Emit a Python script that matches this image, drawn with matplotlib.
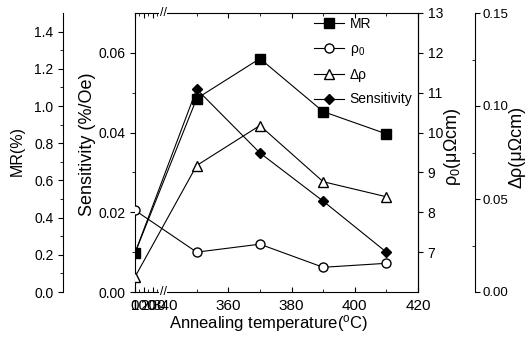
import matplotlib
matplotlib.use("Agg")
import matplotlib.pyplot as plt
import numpy as np

plt.rcParams['font.family'] = ['Liberation Sans', 'DejaVu Sans']
plt.rcParams['mathtext.fontset'] = 'custom'
plt.rcParams['mathtext.rm'] = 'Liberation Sans'
plt.rcParams['mathtext.it'] = 'Liberation Sans:italic'

# data (as-deposited sample placed at 0 on the broken axis)
temps = [0, 350, 370, 390, 410]
mr = [0.21, 1.04, 1.255, 0.97, 0.85]
rho0 = [8.05, 7.0, 7.2, 6.62, 6.72]
drho = [0.0081, 0.068, 0.0895, 0.0593, 0.0512]
sens = [0.0098, 0.0509, 0.0349, 0.0228, 0.0100]

xticks = [0, 100, 200, 340, 360, 380, 400, 420]
xlabels = ['0', '100', '200', '340', '360', '380', '400', '420']


def fwd(t):
    t = np.asarray(t, dtype=float)
    return np.where(t < 340, 330.5 + t * 9.5 / 340, t)


def inv(x):
    x = np.asarray(x, dtype=float)
    return np.where(x < 340, (x - 330.5) * 340 / 9.5, x)


fig = plt.figure(figsize=(5.3, 3.45), dpi=100)
ax = fig.add_axes([135 / 530, 53 / 345, 283 / 530, 279 / 345])
ax_mr = ax.twinx()
ax_rho = ax.twinx()
ax_drho = ax.twinx()
for a in (ax, ax_mr, ax_rho, ax_drho):
    a.set_xscale('function', functions=(fwd, inv))
ax.set_xlim(0, 420)

lw = 0.8
ms = 6.5
# sensitivity on main left axis
l_s, = ax.plot(temps, sens, '-', color='black', lw=lw, marker='D', ms=5.5,
               mfc='black', label='Sensitivity')
ax.set_ylim(0, 0.07)
ax.set_yticks([0, 0.02, 0.04, 0.06])
ax.set_yticks([0.01, 0.03, 0.05], minor=True)
ax.set_yticklabels(['0.00', '0.02', '0.04', '0.06'])
ax.set_xticks(xticks)
ax.set_xticklabels(xlabels)
ax.set_xticks([50, 150, 250, 300, 350, 370, 390, 410], minor=True)
ax.tick_params(axis='x', direction='in', top=True, labelsize=11, pad=5)
ax.tick_params(axis='x', which='minor', direction='in', top=True, length=2)
ax.tick_params(axis='y', direction='out', labelsize=10)
ax.tick_params(axis='y', which='minor', direction='out', length=2)
ax.set_ylabel('Sensitivity (%/Oe)', fontsize=13)
ax.yaxis.set_label_coords(-0.138, 0.53)
ax.set_xlabel('Annealing temperature(${}^{\\rm o}$C)', fontsize=12)
ax.xaxis.set_label_coords(0.473, -0.075)

# MR axis, detached on the left
l_mr, = ax_mr.plot(temps, mr, '-', color='black', lw=lw, marker='s', ms=ms,
                   mfc='black', label='MR')
ax_mr.set_ylim(0, 1.5)
for s in ('right', 'top', 'bottom'):
    ax_mr.spines[s].set_visible(False)
ax_mr.spines['left'].set_visible(True)
ax_mr.spines['left'].set_position(('axes', -0.254))
ax_mr.yaxis.set_ticks_position('left')
ax_mr.yaxis.set_label_position('left')
ax_mr.set_yticks(np.arange(0, 1.41, 0.2))
ax_mr.set_yticks(np.arange(0.1, 1.5, 0.2), minor=True)
ax_mr.set_yticklabels(['0.0', '0.2', '0.4', '0.6', '0.8', '1.0', '1.2', '1.4'])
ax_mr.tick_params(axis='y', direction='out', labelsize=10)
ax_mr.tick_params(axis='y', which='minor', length=2)
ax_mr.set_ylabel('MR(%)', fontsize=11.5)
ax_mr.yaxis.set_label_coords(-0.39, 0.505)

# rho0 axis on the right spine
l_r, = ax_rho.plot(temps, rho0, '-', color='black', lw=lw, marker='o', ms=ms,
                   mfc='white', label='ρ$_0$')
ax_rho.set_ylim(6, 13)
ax_rho.set_yticks(range(7, 14))
ax_rho.tick_params(axis='y', direction='out', labelsize=10)
for s in ('left', 'top', 'bottom'):
    ax_rho.spines[s].set_visible(False)
ax_rho.set_ylabel('ρ$_0$(μΩcm)', fontsize=13)
ax_rho.yaxis.set_label_coords(1.085, 0.52)

# delta rho axis, detached on the right
l_d, = ax_drho.plot(temps, drho, '-', color='black', lw=lw, marker='^', ms=ms,
                    mfc='white', label='Δρ')
ax_drho.set_ylim(0, 0.15)
for s in ('left', 'top', 'bottom'):
    ax_drho.spines[s].set_visible(False)
ax_drho.spines['right'].set_position(('axes', 1.201))
ax_drho.set_yticks([0, 0.05, 0.10, 0.15])
ax_drho.set_yticks([0.025, 0.075, 0.125], minor=True)
ax_drho.set_yticklabels(['0.00', '0.05', '0.10', '0.15'])
ax_drho.tick_params(axis='y', direction='out', labelsize=9.5, pad=2)
ax_drho.tick_params(axis='y', which='minor', direction='in', length=2)
ax_drho.set_ylabel('Δρ(μΩcm)', fontsize=13)
ax_drho.yaxis.set_label_coords(1.32, 0.52)

# axis break marks
for yb in (0, 1):
    ax.text(0.099, yb, '//', transform=ax.transAxes, ha='center', va='center',
            fontsize=9, bbox=dict(facecolor='white', edgecolor='none', pad=0.2))

ax_drho.legend([l_mr, l_r, l_d, l_s], ['MR', 'ρ$_0$', 'Δρ', 'Sensitivity'],
               loc='upper right', bbox_to_anchor=(1.02, 1.025), frameon=False,
               fontsize=10, handlelength=2.2, handletextpad=0.4,
               labelspacing=0.75, borderpad=0.3)

fig.savefig('out.png', dpi=100)
